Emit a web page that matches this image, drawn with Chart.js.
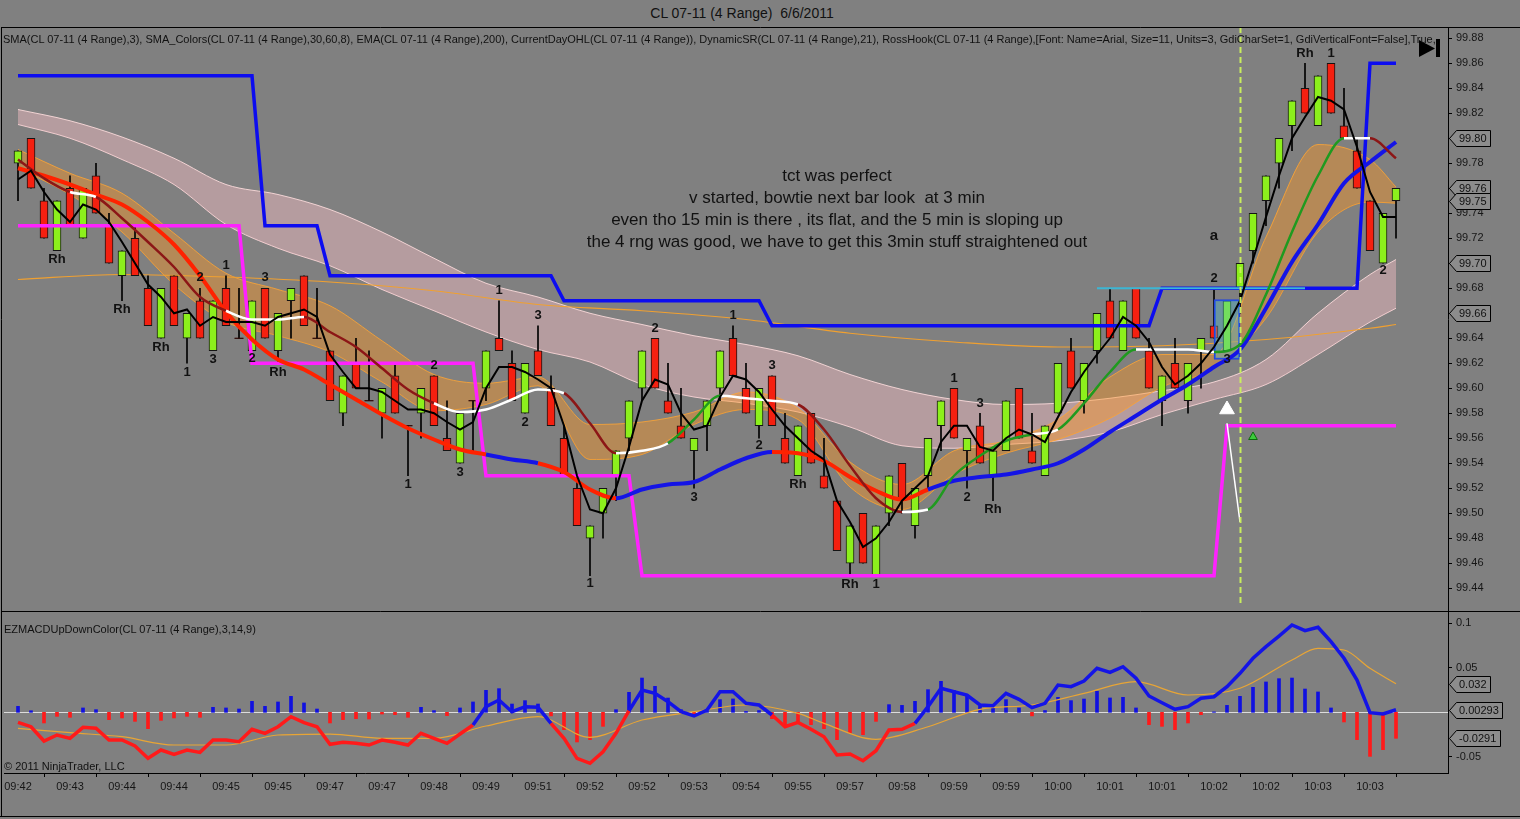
<!DOCTYPE html>
<html>
<head>
<meta charset="utf-8">
<title>CL 07-11 (4 Range) 6/6/2011</title>
<script src="https://cdn.jsdelivr.net/npm/chart.js@4.4.1/dist/chart.umd.min.js"></script>
<style>
  html, body { margin: 0; padding: 0; background: #808080; }
  #wrap { position: relative; width: 1520px; height: 819px; overflow: hidden; background: #808080;
          font-family: 'Liberation Sans', Arial, sans-serif; color: #111; }
  canvas { position: absolute; left: 0; }
  #top { top: 27px; }
  #bot { top: 611px; }
  .txt { position: absolute; white-space: pre; }
  #title { left: 0; width: 1484px; top: 5px; text-align: center; font-size: 14px; }
  #ind { left: 3px; top: 33px; width: 1445px; overflow: hidden; font-size: 11px; }
  #note { left: 537px; width: 600px; top: 165px; text-align: center; font-size: 17px; line-height: 22px; }
  #macdName { left: 4px; top: 623px; font-size: 11px; }
  #copy { left: 4px; top: 760px; font-size: 11px; }
</style>
</head>
<body>
<div id="wrap">
  <canvas id="top" width="1520" height="585"></canvas>
  <canvas id="bot" width="1520" height="208"></canvas>
  <div class="txt" id="title">CL 07-11 (4 Range)  6/6/2011</div>
  <div class="txt" id="ind">SMA(CL 07-11 (4 Range),3), SMA_Colors(CL 07-11 (4 Range),30,60,8), EMA(CL 07-11 (4 Range),200), CurrentDayOHL(CL 07-11 (4 Range)), DynamicSR(CL 07-11 (4 Range),21), RossHook(CL 07-11 (4 Range),[Font: Name=Arial, Size=11, Units=3, GdiCharSet=1, GdiVerticalFont=False],True,</div>
  <div class="txt" id="note">tct was perfect
v started, bowtie next bar look  at 3 min
even tho 15 min is there , its flat, and the 5 min is sloping up
the 4 rng was good, we have to get this 3min stuff straightened out</div>
  <div class="txt" id="macdName">EZMACDUpDownColor(CL 07-11 (4 Range),3,14,9)</div>
  <div class="txt" id="copy">© 2011 NinjaTrader, LLC</div>
</div>
<script>
const FONT = "'Liberation Sans', Arial, sans-serif";
Chart.defaults.font.family = FONT;

// x axis labels, one every 4 bars
const tickLabels = ["09:42","09:43","09:44","09:44","09:45","09:45","09:47","09:47","09:48","09:49",
  "09:51","09:52","09:52","09:53","09:54","09:55","09:57","09:58","09:59","09:59",
  "10:00","10:01","10:01","10:02","10:02","10:03","10:03"];
const priceTicks = [99.44,99.46,99.48,99.50,99.52,99.54,99.56,99.58,99.60,99.62,99.64,99.66,
  99.68,99.70,99.72,99.74,99.76,99.78,99.80,99.82,99.84,99.86,99.88];
const macdTicks = [-0.05, 0.05, 0.1];

// 4 range bars
const opens = [99.78,99.80,99.75,99.71,99.76,99.72,99.77,99.73,99.69,99.72,
  99.68,99.64,99.69,99.64,99.67,99.63,99.68,99.64,99.63,99.68,
  99.63,99.67,99.69,99.64,99.63,99.58,99.62,99.59,99.58,99.61,
  99.57,99.58,99.61,99.56,99.54,99.59,99.60,99.64,99.62,99.58,
  99.63,99.60,99.56,99.52,99.48,99.50,99.53,99.56,99.60,99.64,
  99.59,99.57,99.55,99.57,99.60,99.64,99.60,99.57,99.61,99.56,
  99.53,99.58,99.53,99.51,99.46,99.50,99.45,99.50,99.54,99.49,
  99.53,99.57,99.60,99.55,99.57,99.53,99.55,99.60,99.55,99.53,
  99.58,99.63,99.59,99.63,99.67,99.63,99.68,99.63,99.59,99.62,
  99.59,99.63,99.65,99.63,99.68,99.71,99.75,99.78,99.81,99.84,
  99.81,99.86,99.81,99.79,99.75,99.70,99.75];
const highs = [99.79,99.80,99.76,99.75,99.77,99.76,99.78,99.74,99.71,99.73,
  99.69,99.68,99.69,99.66,99.68,99.67,99.69,99.68,99.67,99.68,
  99.66,99.68,99.69,99.68,99.63,99.61,99.64,99.63,99.60,99.62,
  99.57,99.60,99.61,99.59,99.58,99.59,99.63,99.67,99.63,99.62,
  99.65,99.61,99.57,99.53,99.49,99.52,99.55,99.59,99.63,99.64,
  99.62,99.60,99.56,99.59,99.63,99.65,99.62,99.60,99.61,99.58,
  99.57,99.58,99.56,99.51,99.49,99.50,99.49,99.53,99.54,99.52,
  99.56,99.59,99.60,99.56,99.58,99.55,99.59,99.60,99.58,99.57,
  99.62,99.64,99.62,99.66,99.68,99.67,99.68,99.64,99.61,99.64,
  99.62,99.64,99.68,99.67,99.70,99.74,99.77,99.80,99.83,99.86,
  99.85,99.86,99.84,99.80,99.75,99.74,99.76];
const lows = [99.75,99.76,99.72,99.71,99.73,99.72,99.74,99.70,99.67,99.69,
  99.65,99.64,99.65,99.62,99.64,99.63,99.65,99.64,99.63,99.64,
  99.62,99.64,99.65,99.64,99.59,99.57,99.60,99.59,99.56,99.58,
  99.53,99.56,99.57,99.55,99.54,99.55,99.59,99.63,99.59,99.58,
  99.61,99.57,99.53,99.49,99.45,99.48,99.51,99.55,99.59,99.60,
  99.58,99.56,99.52,99.55,99.59,99.61,99.58,99.56,99.57,99.54,
  99.53,99.54,99.52,99.47,99.45,99.46,99.45,99.49,99.50,99.48,
  99.52,99.55,99.56,99.52,99.54,99.51,99.55,99.56,99.54,99.53,
  99.58,99.60,99.58,99.62,99.64,99.63,99.64,99.60,99.57,99.60,
  99.58,99.60,99.64,99.63,99.66,99.70,99.73,99.76,99.79,99.82,
  99.81,99.82,99.80,99.76,99.71,99.70,99.72];
const closes = [99.79,99.76,99.72,99.75,99.73,99.76,99.74,99.70,99.71,99.69,
  99.65,99.68,99.65,99.66,99.64,99.67,99.65,99.64,99.67,99.64,
  99.66,99.68,99.65,99.64,99.59,99.61,99.60,99.59,99.60,99.58,
  99.57,99.60,99.57,99.55,99.58,99.59,99.63,99.63,99.59,99.62,
  99.61,99.57,99.53,99.49,99.49,99.52,99.55,99.59,99.63,99.60,
  99.58,99.56,99.56,99.59,99.63,99.61,99.58,99.60,99.57,99.54,
  99.57,99.54,99.52,99.47,99.49,99.46,99.49,99.53,99.51,99.52,
  99.56,99.59,99.56,99.56,99.54,99.55,99.59,99.56,99.54,99.57,
  99.62,99.60,99.62,99.66,99.64,99.67,99.64,99.60,99.61,99.60,
  99.62,99.64,99.64,99.67,99.70,99.74,99.77,99.80,99.83,99.82,
  99.85,99.82,99.80,99.76,99.71,99.74,99.76];

// black SMA(3), one value per bar
const sma3 = [99.767,99.774,99.757,99.743,99.733,99.747,99.743,99.733,99.717,99.700,
  99.683,99.673,99.660,99.663,99.650,99.657,99.653,99.653,99.653,99.650,
  99.657,99.660,99.663,99.657,99.627,99.613,99.600,99.600,99.597,99.590,
  99.583,99.583,99.580,99.573,99.567,99.573,99.600,99.617,99.617,99.613,
  99.607,99.600,99.570,99.530,99.503,99.500,99.520,99.553,99.590,99.607,
  99.603,99.580,99.567,99.570,99.593,99.610,99.607,99.597,99.583,99.570,
  99.560,99.550,99.543,99.510,99.493,99.473,99.480,99.493,99.510,99.520,
  99.530,99.557,99.570,99.570,99.553,99.550,99.560,99.567,99.563,99.557,
  99.577,99.597,99.613,99.627,99.640,99.657,99.650,99.637,99.617,99.603,
  99.610,99.620,99.633,99.650,99.670,99.703,99.737,99.770,99.800,99.817,
  99.833,99.830,99.823,99.793,99.757,99.737,99.737];

// SMA_Colors slow line (thick red/blue), read every 2nd bar
const trendLine = [99.776,99.770,99.763,99.755,99.747,99.733,99.715,99.690,99.661,99.639,
  99.623,99.615,99.603,99.591,99.579,99.568,99.559,99.551,99.547,99.543,
  99.540,99.533,99.519,99.512,99.519,99.523,99.525,99.535,99.544,99.549,
  99.548,99.542,99.529,99.518,99.511,99.519,99.526,99.529,99.531,99.535,
  99.540,99.551,99.565,99.578,99.591,99.603,99.617,99.631,99.664,99.701,
  99.731,99.764,99.781,99.797];
const trendDownRuns = [[0, 35], [41, 46], [58, 69]];

// SMA_Colors fast line, every 2nd bar; state u = rising, d = falling, f = flat
const fastLine = [99.783,99.768,99.757,99.753,99.736,99.717,99.697,99.673,99.662,99.655,
  99.655,99.657,99.645,99.633,99.616,99.599,99.588,99.581,99.583,99.591,
  99.599,99.596,99.572,99.548,99.550,99.556,99.575,99.594,99.592,99.590,
  99.587,99.567,99.538,99.512,99.501,99.503,99.530,99.546,99.558,99.563,
  99.567,99.588,99.613,99.631,99.631,99.631,99.629,99.635,99.675,99.725,
  99.770,99.800,99.800,99.784];
const fastState = "fddfdddddfffdddddfffffddffuufffddddfuuuufuuufffuuuuufd";

// orange ribbon and pink channel, every 4th bar plus the last bar
const ribbonTop = [99.791,99.772,99.756,99.724,99.692,99.679,99.666,99.638,99.611,99.604,
  99.609,99.571,99.573,99.581,99.597,99.584,99.541,99.523,99.550,99.558,
  99.575,99.609,99.627,99.627,99.721,99.795,99.783,99.761];
const ribbonBottom = [99.776,99.755,99.725,99.683,99.653,99.642,99.629,99.605,99.582,99.587,
  99.602,99.543,99.547,99.571,99.583,99.575,99.521,99.503,99.531,99.548,
  99.559,99.576,99.601,99.616,99.656,99.725,99.749,99.748];
const pinkTop = [99.823,99.814,99.801,99.784,99.763,99.755,99.743,99.725,99.704,99.684,
  99.673,99.660,99.651,99.642,99.635,99.626,99.611,99.599,99.591,99.587,
  99.588,99.592,99.598,99.605,99.623,99.660,99.691,99.703];
const pinkBottom = [99.811,99.800,99.783,99.763,99.731,99.712,99.698,99.679,99.662,99.645,
  99.631,99.621,99.603,99.593,99.588,99.581,99.569,99.554,99.552,99.555,
  99.558,99.565,99.579,99.591,99.603,99.627,99.653,99.664];

// EMA(200), every 8th bar plus the last bar
const ema200 = [99.687,99.691,99.689,99.685,99.678,99.667,99.662,99.655,99.644,99.637,
  99.633,99.634,99.639,99.648,99.651];

// DynamicSR step levels: [first bar, price]
const resistanceSteps = [[0, 99.85], [19, 99.73], [24, 99.69], [42, 99.67], [58, 99.65], [88, 99.68], [104, 99.86]];
const supportSteps = [[0, 99.73], [18, 99.62], [36, 99.53], [48, 99.45], [93, 99.57]];

// RossHook objects
const hookBars = [83, 99];
const hookPrice = 99.68;
const boxBar = 93;
const boxRange = [99.623, 99.671];
const dashBar = 94;
const arrowBars = [93, 94];
const arrowPrices = [99.572, 99.493];
const arrowHead = [93, 99.583];
const markerBar = 95;
const markerPrice = 99.561;

const markText  = ["Rh","Rh","Rh","1","2","3","1","2","3","Rh","1","2","3","1","2","3","1","2","3",
  "1","2","3","Rh","Rh","1","1","2","3","Rh","2","3","a","Rh","1","2"];
const markBar   = [3,8,11,13,14,15,16,18,19,20,30,32,34,37,39,40,44,49,52,
  55,57,58,60,64,66,72,73,74,75,92,93,92,99,101,105];
const markPrice = [99.703,99.663,99.633,99.613,99.689,99.623,99.698,99.624,99.689,99.613,
  99.523,99.618,99.533,99.678,99.573,99.658,99.444,99.648,99.513,
  99.658,99.554,99.618,99.523,99.443,99.443,99.608,99.513,99.588,99.503,
  99.688,99.623,99.722,99.868,99.868,99.694];

const priceFlags = [99.80, 99.76, 99.75, 99.70, 99.66];

// EZMACD panel
const macd = [-0.0112,-0.0161,-0.0321,-0.0254,-0.0291,-0.0168,-0.0179,-0.0310,-0.0310,-0.0377,
  -0.0515,-0.0422,-0.0470,-0.0422,-0.0448,-0.0310,-0.0310,-0.0329,-0.0190,-0.0235,
  -0.0161,-0.0049,-0.0116,-0.0161,-0.0358,-0.0336,-0.0347,-0.0366,-0.0310,-0.0336,
  -0.0366,-0.0235,-0.0291,-0.0347,-0.0243,-0.0142,0.0063,0.0138,0.0007,0.0063,
  0.0056,-0.0123,-0.0291,-0.0515,-0.0571,-0.0441,-0.0235,0.0018,0.0250,0.0213,
  0.0119,0.0007,-0.0041,0.0026,0.0231,0.0231,0.0101,0.0082,-0.0030,-0.0161,
  -0.0112,-0.0190,-0.0273,-0.0478,-0.0467,-0.0542,-0.0430,-0.0198,-0.0190,-0.0123,
  0.0063,0.0269,0.0231,0.0194,0.0082,0.0074,0.0213,0.0146,0.0052,0.0101,
  0.0306,0.0287,0.0351,0.0493,0.0448,0.0511,0.0381,0.0183,0.0108,0.0034,
  0.0063,0.0157,0.0175,0.0287,0.0437,0.0605,0.0735,0.0854,0.0978,0.0914,
  0.0952,0.0791,0.0605,0.0362,-0.0004,-0.0019,0.0029];
const hist = [0.0067,0.0018,-0.0119,-0.0045,-0.0056,0.0049,0.0030,-0.0082,-0.0063,-0.0101,
  -0.0183,-0.0090,-0.0063,-0.0045,-0.0056,0.0056,0.0049,0.0037,0.0123,0.0067,
  0.0116,0.0179,0.0105,0.0037,-0.0119,-0.0082,-0.0071,-0.0075,-0.0019,-0.0026,
  -0.0056,0.0056,0.0019,-0.0037,0.0049,0.0116,0.0246,0.0265,0.0093,0.0131,
  0.0093,-0.0040,-0.0194,-0.0332,-0.0306,-0.0157,0.0030,0.0224,0.0384,0.0291,
  0.0160,0.0030,-0.0026,0.0010,0.0142,0.0150,0.0010,0.0020,-0.0071,-0.0138,
  -0.0101,-0.0138,-0.0183,-0.0306,-0.0231,-0.0250,-0.0101,0.0086,0.0078,0.0123,
  0.0254,0.0347,0.0243,0.0179,0.0067,0.0049,0.0142,0.0049,-0.0040,0.0020,
  0.0168,0.0131,0.0149,0.0235,0.0161,0.0168,0.0049,-0.0138,-0.0157,-0.0194,
  -0.0119,-0.0026,0.0005,0.0078,0.0179,0.0280,0.0340,0.0377,0.0384,0.0261,
  0.0228,0.0049,-0.0108,-0.0306,-0.0493,-0.0418,-0.0291];
const signalBars = [0,4,8,12,16,20,24,28,32,36,40,44,48,52,56,60,62,66,70,74,78,82,86,90,94,98,100,102,104,106];
const signal = [-0.0179,-0.0228,-0.0273,-0.0366,-0.0366,-0.0254,-0.0243,-0.0291,-0.0291,-0.0153,
  -0.0049,-0.0280,-0.0086,0.0007,0.0082,-0.0011,-0.0123,-0.0302,-0.0161,0.0034,
  0.0082,0.0213,0.0343,0.0194,0.0269,0.0586,0.0717,0.0698,0.0493,0.0320];
const macdFlags = [0.032, 0.00293, -0.0291];

// ---------- helpers ----------
const lastBar = opens.length - 1;
const bars = opens.map((_, i) => i);
function every(n) {
  const out = [];
  for (let i = 0; i <= lastBar; i += n) out.push(i);
  if (out[out.length - 1] !== lastBar) out.push(lastBar);
  return out;
}
const evenBars = every(2);
const quadBars = every(4);
const octBars = every(8);
const pts = (xs, ys) => xs.map((x, k) => ({ x: x, y: ys[k] }));
function stepSeries(steps) {
  return bars.map(i => {
    let v = steps[0][1];
    steps.forEach(s => { if (i >= s[0]) v = s[1]; });
    return { x: i, y: v };
  });
}
const isDown = b => trendDownRuns.some(r => b >= r[0] && b <= r[1]);
const fastColors = { u: '#1f9a1f', d: '#8c1616', f: '#ffffff' };
const UP = '#8cf01c', DN = '#f52010';

const X_MIN = -1.077, X_MAX = 110;

// keep the axes from pushing the plot area around
function fixY(s) { s.width = 72; s.paddingTop = 0; s.paddingBottom = 0; }
function fixX(s) { s.height = 46; s.paddingLeft = 0; s.paddingRight = 0; }

function drawFlag(ctx, x, yy, text) {
  ctx.font = '11px ' + FONT;
  const w = Math.ceil(ctx.measureText(text).width) + 6;
  ctx.beginPath();
  ctx.moveTo(x + 0.5, yy + 0.5);
  ctx.lineTo(x + 7.5, yy - 7.5);
  ctx.lineTo(x + 7.5 + w, yy - 7.5);
  ctx.lineTo(x + 7.5 + w, yy + 8.5);
  ctx.lineTo(x + 7.5, yy + 8.5);
  ctx.closePath();
  ctx.fillStyle = '#8c8c8c';
  ctx.fill();
  ctx.strokeStyle = '#000';
  ctx.lineWidth = 1;
  ctx.stroke();
  ctx.fillStyle = '#111';
  ctx.textAlign = 'left';
  ctx.textBaseline = 'middle';
  ctx.fillText(text, x + 10, yy + 1);
}

function hline(ctx, y, x0, x1) {
  ctx.beginPath();
  ctx.moveTo(x0, y);
  ctx.lineTo(x1, y);
  ctx.stroke();
}

// ---------- price panel ----------
const topDecor = {
  id: 'topDecor',
  afterDatasetsDraw(chart) {
    const { ctx, chartArea: a, scales: { x, y } } = chart;
    ctx.save();
    // vertical dashed marker
    const dx = Math.round(x.getPixelForValue(dashBar)) + 0.5;
    ctx.strokeStyle = '#c8ee5c';
    ctx.lineWidth = 2;
    ctx.setLineDash([6, 4]);
    ctx.beginPath();
    ctx.moveTo(dx, a.top);
    ctx.lineTo(dx, a.bottom - 6);
    ctx.stroke();
    ctx.setLineDash([]);
    // swing labels
    ctx.fillStyle = '#111';
    ctx.textAlign = 'center';
    ctx.textBaseline = 'middle';
    markText.forEach((t, k) => {
      ctx.font = (t === 'a' ? 'bold 15px ' : 'bold 13px ') + FONT;
      ctx.fillText(t, x.getPixelForValue(markBar[k]), y.getPixelForValue(markPrice[k]));
    });
    ctx.restore();
  },
  afterDraw(chart) {
    const { ctx, chartArea: a, scales: { y } } = chart;
    ctx.save();
    ctx.strokeStyle = '#000';
    ctx.lineWidth = 1;
    hline(ctx, 0.5, 1, 1520);
    ctx.beginPath();
    ctx.moveTo(1.5, 0);
    ctx.lineTo(1.5, a.bottom + 1);
    ctx.stroke();
    priceFlags.forEach(v => drawFlag(ctx, a.right + 1, Math.round(y.getPixelForValue(v)), v.toFixed(2)));
    // go-to-end button
    ctx.fillStyle = '#000';
    ctx.beginPath();
    ctx.moveTo(1419, 13);
    ctx.lineTo(1419, 30);
    ctx.lineTo(1435, 21.5);
    ctx.closePath();
    ctx.fill();
    ctx.fillRect(1436, 12, 4, 18);
    ctx.restore();
  }
};

new Chart(document.getElementById('top'), {
  type: 'bar',
  data: {
    datasets: [
      { type: 'line', label: 'arrow', data: pts(arrowBars, arrowPrices), borderColor: '#ffffff',
        borderWidth: 1.5, pointRadius: 0, order: 0 },
      { type: 'line', label: 'arrow head', data: [{ x: arrowHead[0], y: arrowHead[1] }], showLine: false,
        pointStyle: 'triangle', pointRadius: 8.5, pointBackgroundColor: '#ffffff', pointBorderColor: '#ffffff', order: 0 },
      { type: 'line', label: 'entry marker', data: [{ x: markerBar, y: markerPrice }], showLine: false,
        pointStyle: 'triangle', pointRadius: 5, pointBackgroundColor: '#3ccb3c', pointBorderColor: '#0b6b0b',
        pointBorderWidth: 1, order: 0 },
      { type: 'line', label: 'SMA(3)', data: pts(bars, sma3), borderColor: '#000000', borderWidth: 2,
        pointRadius: 0, order: 1 },
      { type: 'line', label: 'SMA_Colors fast', data: pts(evenBars, fastLine), borderWidth: 2.5,
        pointRadius: 0, cubicInterpolationMode: 'monotone', borderColor: '#8c1616',
        segment: { borderColor: c => fastColors[fastState[c.p1DataIndex]] }, order: 2 },
      { type: 'line', label: 'SMA_Colors slow', data: pts(evenBars, trendLine), borderWidth: 4,
        pointRadius: 0, cubicInterpolationMode: 'monotone', borderColor: '#ff2200',
        segment: { borderColor: c => isDown((c.p0.parsed.x + c.p1.parsed.x) / 2) ? '#ff2200' : '#1414e6' }, order: 3 },
      { type: 'line', label: 'hook level', data: hookBars.map(b => ({ x: b, y: hookPrice })),
        borderColor: '#3cb6d4', borderWidth: 2, pointRadius: 0, order: 4 },
      { type: 'bar', label: 'hook box', data: [{ x: boxBar, y: boxRange }],
        backgroundColor: 'rgba(70,190,215,0.35)', borderColor: '#2244dd', borderWidth: 1.5,
        borderSkipped: false, barThickness: 26, grouped: false, order: 4 },
      { type: 'line', label: 'DynamicSR high', data: stepSeries(resistanceSteps), borderColor: '#0c0cf0',
        borderWidth: 3.5, pointRadius: 0, order: 5 },
      { type: 'line', label: 'DynamicSR low', data: stepSeries(supportSteps), borderColor: '#ff22ff',
        borderWidth: 3.5, pointRadius: 0, order: 5 },
      { type: 'line', label: 'doji', data: bars.filter(i => opens[i] === closes[i]).map(i => ({ x: i, y: opens[i] })),
        showLine: false, pointStyle: 'line', pointRadius: 4.5, pointBorderColor: '#000', pointBorderWidth: 1, order: 6 },
      { type: 'bar', label: 'bodies', data: bars.map(i => ({ x: i, y: [opens[i], closes[i]] })),
        backgroundColor: c => closes[c.dataIndex] > opens[c.dataIndex] ? UP : DN,
        borderColor: '#141414', borderWidth: c => opens[c.dataIndex] === closes[c.dataIndex] ? 0 : 1,
        borderSkipped: false, barThickness: 8, grouped: false, order: 7 },
      { type: 'bar', label: 'wicks', data: bars.map(i => ({ x: i, y: [lows[i], highs[i]] })),
        backgroundColor: '#000000', barThickness: 1, grouped: false, order: 8 },
      { type: 'line', label: 'EMA(200)', data: pts(octBars, ema200), borderColor: '#f0a030', borderWidth: 1.2,
        pointRadius: 0, cubicInterpolationMode: 'monotone', order: 9 },
      { type: 'line', label: 'ribbon top', data: pts(quadBars, ribbonTop), fill: '+1',
        backgroundColor: 'rgba(255,150,30,0.42)', borderColor: 'rgba(255,165,50,0.8)', borderWidth: 1,
        pointRadius: 0, cubicInterpolationMode: 'monotone', order: 10 },
      { type: 'line', label: 'ribbon bottom', data: pts(quadBars, ribbonBottom),
        borderColor: 'rgba(255,165,50,0.8)', borderWidth: 1, pointRadius: 0, cubicInterpolationMode: 'monotone', order: 10 },
      { type: 'line', label: 'channel top', data: pts(quadBars, pinkTop), fill: '+1',
        backgroundColor: 'rgba(255,196,202,0.42)', borderColor: 'rgba(255,222,222,0.85)', borderWidth: 1,
        pointRadius: 0, cubicInterpolationMode: 'monotone', order: 11 },
      { type: 'line', label: 'channel bottom', data: pts(quadBars, pinkBottom),
        borderColor: 'rgba(255,222,222,0.85)', borderWidth: 1, pointRadius: 0, cubicInterpolationMode: 'monotone', order: 11 }
    ]
  },
  options: {
    responsive: false,
    animation: false,
    events: [],
    layout: { padding: { left: 4, right: 0, top: 0, bottom: 1 }, autoPadding: false },
    plugins: { legend: { display: false }, tooltip: { enabled: false } },
    scales: {
      x: { type: 'linear', min: X_MIN, max: X_MAX, display: false, offset: false },
      y: {
        position: 'right', min: 99.4218, max: 99.889, beginAtZero: false,
        afterFit: fixY,
        afterBuildTicks: s => { s.ticks = priceTicks.map(v => ({ value: v })); },
        ticks: { callback: v => v.toFixed(2), color: '#161616', font: { size: 11 }, padding: 4, autoSkip: false },
        grid: { drawOnChartArea: false, drawTicks: true, tickLength: 4, color: '#000' },
        border: { display: true, color: '#000' }
      }
    }
  },
  plugins: [topDecor]
});

// ---------- MACD panel ----------
const botDecor = {
  id: 'botDecor',
  beforeDatasetsDraw(chart) {
    const { ctx, chartArea: a, scales: { y } } = chart;
    ctx.save();
    ctx.strokeStyle = '#dcdcdc';
    ctx.lineWidth = 1;
    hline(ctx, Math.round(y.getPixelForValue(0)) + 0.5, a.left, a.right);
    ctx.restore();
  },
  afterDraw(chart) {
    const { ctx, chartArea: a, scales: { y } } = chart;
    ctx.save();
    ctx.strokeStyle = '#000';
    ctx.lineWidth = 1;
    hline(ctx, 0.5, 1, 1520);
    hline(ctx, 205.5, 0, 1520);
    ctx.beginPath();
    ctx.moveTo(1.5, 0);
    ctx.lineTo(1.5, 206);
    ctx.stroke();
    macdFlags.forEach(v => drawFlag(ctx, a.right + 1, Math.round(y.getPixelForValue(v)), String(v)));
    ctx.restore();
  }
};

new Chart(document.getElementById('bot'), {
  type: 'bar',
  data: {
    datasets: [
      { type: 'line', label: 'MACD', data: pts(bars, macd), borderWidth: 3.5, pointRadius: 0,
        borderColor: '#1414e6',
        segment: { borderColor: c => (c.p0.parsed.y + c.p1.parsed.y) / 2 >= -0.004 ? '#1414e6' : '#ff1a1a' }, order: 1 },
      { type: 'line', label: 'Signal', data: pts(signalBars, signal), borderColor: '#e8a535', borderWidth: 1.2,
        pointRadius: 0, cubicInterpolationMode: 'monotone', order: 2 },
      { type: 'bar', label: 'Diff', data: pts(bars, hist),
        backgroundColor: c => hist[c.dataIndex] >= 0 ? '#1010e0' : '#ff1a1a',
        barThickness: 3, grouped: false, order: 3 }
    ]
  },
  options: {
    responsive: false,
    animation: false,
    events: [],
    layout: { padding: { left: 4, right: 0, top: 1, bottom: 0 }, autoPadding: false },
    plugins: { legend: { display: false }, tooltip: { enabled: false } },
    scales: {
      x: {
        type: 'linear', min: X_MIN, max: X_MAX, offset: false, position: 'bottom',
        afterFit: fixX,
        afterBuildTicks: s => { s.ticks = tickLabels.map((_, k) => ({ value: k * 4 })); },
        ticks: { callback: v => tickLabels[Math.round(v / 4)], color: '#161616', font: { size: 11 },
                 maxRotation: 0, autoSkip: false, padding: 3 },
        grid: { drawOnChartArea: false, drawTicks: true, tickLength: 4, color: '#000' },
        border: { display: true, color: '#000' }
      },
      y: {
        position: 'right', min: -0.06792, max: 0.11232, beginAtZero: false,
        afterFit: fixY,
        afterBuildTicks: s => { s.ticks = macdTicks.map(v => ({ value: v })); },
        ticks: { callback: v => String(v), color: '#161616', font: { size: 11 }, padding: 4, autoSkip: false },
        grid: { drawOnChartArea: false, drawTicks: true, tickLength: 4, color: '#000' },
        border: { display: true, color: '#000' }
      }
    }
  },
  plugins: [botDecor]
});
</script>
</body>
</html>
